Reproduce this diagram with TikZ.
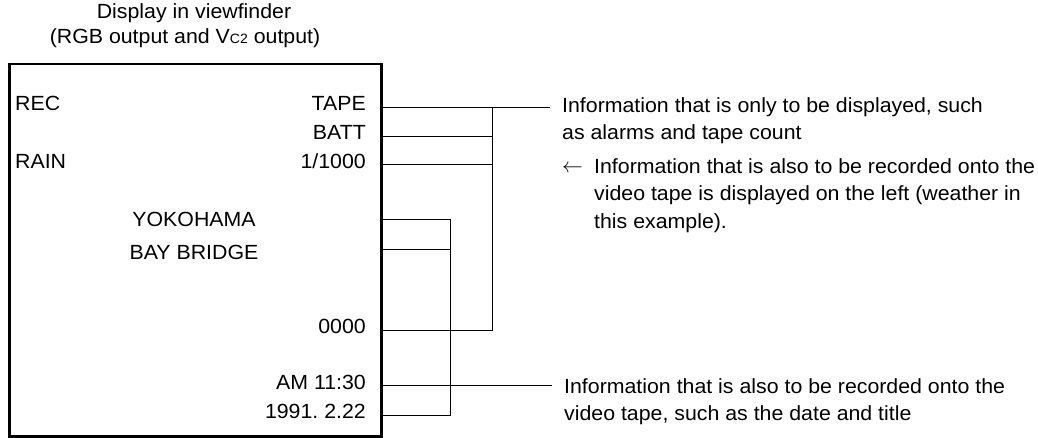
\documentclass[tikz,border=0pt]{standalone}
\usepackage{fontspec}
\setmainfont{Liberation Sans}[FakeStretch=1.04]
\usetikzlibrary{positioning}

\begin{document}
\begin{tikzpicture}
      [ x=1pt, y=-1pt,
        every node/.style={font=\fontsize{20.5}{27.5}\selectfont, inner sep=0pt},
        readout/.style={text height=0.72em, text depth=0pt},
        frame/.style={draw, line width=2.6pt, anchor=north west,
                      minimum width=371.7pt, minimum height=372.5pt},
        remark/.style={align=left, anchor=north west, inner xsep=12pt},
        wire/.style={line width=0.8pt}
      ]
      \useasboundingbox (0,0) rectangle (1038,437);

      \node[readout] (title)    at (194,15) {Display in viewfinder};
      \node[readout] (subtitle) at (185,40)
           {(RGB output and V{\fontsize{13.5}{13.5}\selectfont C2} output)};

      \node[frame] (screen) at (8.3,62.5) {};

      \node[readout, anchor=west] (rec)     at (15,107)   {REC};
      \node[readout, anchor=west] (rain)    at (15,164.5) {RAIN};
      \node[readout, anchor=east] (tape)    at (366,107)  {TAPE};
      \node[readout, anchor=east] (batt)    at (366,136)  {BATT};
      \node[readout, anchor=east] (speed)   at (366,164.5) {1/1000};
      \node[readout]              (city)    at (194,222.5) {YOKOHAMA};
      \node[readout]              (bridge)  at (194,256)  {BAY BRIDGE};
      \node[readout, anchor=east] (counter) at (366,330)  {0000};
      \node[readout, anchor=east] (clock)   at (366,385.5) {AM 11:30};
      \node[readout, anchor=east] (date)    at (366,415)  {1991.\ 2.22};

      \node[remark] (display note) at (550,97.4)
           {Information that is only to be displayed, such\\
            as alarms and tape count};
      \node[readout] (arrow) at (572.5,166) {\raisebox{-2.5pt}{$\leftarrow$}};
      \node[remark, inner xsep=0pt] (left note) at (594,158.4)
           {Information that is also to be recorded onto the\\
            video tape is displayed on the left (weather in\\
            this example).};
      \node[remark] (record note) at (552,378.4)
           {Information that is also to be recorded onto the\\
            video tape, such as the date and title};

      \coordinate (busA) at (492,0);
      \coordinate (busB) at (450,0);
      \coordinate (city tap)   at ([yshift=3.5pt]city.center);
      \coordinate (bridge tap) at ([yshift=7pt]bridge.center);

      % display-only group
      \draw[wire] (screen.east |- tape)    -- (display note.west |- tape);
      \draw[wire] (screen.east |- batt)    -- (busA |- batt);
      \draw[wire] (screen.east |- speed)   -- (busA |- speed);
      \draw[wire] (screen.east |- counter) -| (busA |- tape);

      % recorded group
      \draw[wire] (screen.east |- city tap)   -- (busB |- city tap);
      \draw[wire] (screen.east |- bridge tap) -- (busB |- bridge tap);
      \draw[wire] (screen.east |- date)       -| (busB |- city tap);
      \draw[wire] (screen.east |- clock)      -- (record note.west |- clock);
    \end{tikzpicture}
\end{document}
